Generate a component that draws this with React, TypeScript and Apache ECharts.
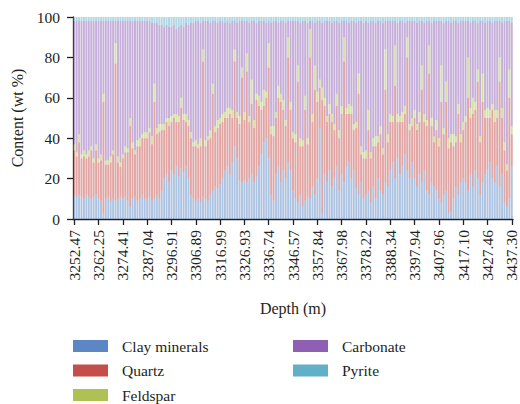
import React, { useEffect, useRef } from "react";
import * as echarts from "echarts";

const depthLabels = ["3252.47","3262.25","3274.41","3287.04","3296.91","3306.89","3316.99","3326.93","3336.74","3346.57","3357.84","3367.98","3378.22","3388.34","3397.94","3407.96","3417.10","3427.46","3437.30"];

const clay = [
  12,11,12,11,10,12,11,10,11,12,
  10,9,3,10,11,9,10,9,10,11,
  10,11,9,6,10,11,9,10,12,10,
  10,11,9,10,12,10,14,20,22,18,
  24,22,26,21,25,23,26,20,12,10,
  9,10,8,11,10,9,12,14,16,15,
  17,20,24,26,22,28,36,30,19,18,
  19,18,20,22,18,21,26,32,38,40,
  30,12,9,22,26,18,24,20,28,24,
  14,10,8,12,6,9,11,10,16,12,
  20,45,3,22,18,24,16,20,26,14,
  22,18,26,28,20,24,15,12,18,10,
  12,14,8,16,10,20,14,12,18,16,
  24,28,20,30,22,26,32,24,20,28,
  20,16,22,18,24,14,12,18,16,14,
  10,8,12,14,3,4,10,16,12,18,
  20,18,14,22,16,24,20,12,18,22,
  24,28,20,18,26,16,22,8,6,10,26,
];
const quartz = [
  22,20,26,19,21,18,20,24,17,22,
  18,20,55,17,16,19,22,68,18,15,
  20,22,24,40,25,21,27,26,28,30,
  30,32,28,48,30,33,30,24,26,28,
  24,28,22,27,30,26,22,26,28,26,
  27,25,28,67,26,30,28,48,27,30,
  30,28,26,24,30,22,42,20,28,52,
  30,55,28,35,27,38,30,22,18,20,
  45,30,32,28,34,40,30,26,52,30,
  26,28,60,24,30,45,26,70,32,52,
  38,20,56,34,30,28,32,24,30,26,
  30,60,26,24,32,20,30,50,14,20,
  18,30,22,20,26,18,28,20,46,22,
  24,20,46,18,26,22,20,56,24,18,
  30,28,26,46,24,32,60,28,22,30,
  26,50,30,44,32,34,26,22,40,20,
  24,30,46,28,36,30,48,26,40,28,
  26,22,34,30,24,52,28,26,18,50,16,
];
const feldspar = [
  3,2,4,2,3,2,3,2,2,3,
  2,3,4,2,2,3,2,10,3,2,
  2,3,2,4,3,2,3,4,2,3,
  3,2,4,9,3,4,3,3,2,4,
  3,2,4,3,5,3,4,3,3,2,
  3,2,4,6,3,2,4,5,3,4,
  3,4,3,5,3,4,6,3,4,5,
  4,9,3,12,4,3,5,4,8,3,
  12,4,5,3,6,4,5,3,10,4,
  3,4,8,4,3,7,3,14,4,12,
  5,4,6,4,3,5,4,3,6,4,
  4,12,3,5,4,3,3,10,4,3,
  4,10,3,4,5,3,4,3,20,4,
  4,3,20,4,3,5,4,10,3,4,
  4,3,5,12,4,3,14,4,3,5,
  4,18,3,10,5,4,6,3,5,4,
  4,3,20,5,8,4,6,3,14,4,
  5,4,3,6,4,12,5,4,3,14,4,
];
const carbonate = [
  61,65,56,66,64,66,64,62,68,61,
  68,66,36,69,69,67,64,11,67,70,
  66,62,63,48,60,64,59,58,56,55,
  55,53,56,30,52,49,49,48,46,45,
  44,44,42,44,36,43,45,47,54,59,
  59,61,57,14,59,57,53,31,52,48,
  48,46,44,43,42,44,14,44,47,23,
  45,16,46,29,49,35,37,40,34,34,
  11,51,52,45,31,36,39,48,8,40,
  55,56,22,57,59,37,57,4,46,21,
  35,29,32,38,47,41,45,51,36,53,
  42,8,43,40,42,51,49,26,62,64,
  64,43,65,58,56,57,52,62,14,56,
  46,47,12,45,47,45,41,8,51,48,
  44,50,45,22,45,49,12,47,57,49,
  58,22,52,30,58,55,56,57,40,56,
  50,47,18,42,38,40,23,57,26,43,
  43,44,40,44,44,18,42,60,71,24,51,
];
const pyrite = [
  2,2,2,2,2,2,2,2,2,2,
  2,2,2,2,2,2,2,2,2,2,
  2,2,2,2,2,2,2,2,2,2,
  2,2,3,3,3,4,4,5,4,5,
  5,4,6,5,4,5,3,4,3,3,
  2,2,3,2,2,2,3,2,2,3,
  2,2,3,2,3,2,2,3,2,2,
  2,2,3,2,2,3,2,2,2,3,
  2,3,2,2,3,2,2,3,2,2,
  2,2,2,3,2,2,3,2,2,3,
  2,2,3,2,2,2,3,2,2,3,
  2,2,2,3,2,2,3,2,2,3,
  2,3,2,2,3,2,2,3,2,2,
  2,2,2,3,2,2,3,2,2,2,
  2,3,2,2,3,2,2,3,2,2,
  2,2,3,2,2,3,2,2,3,2,
  2,2,2,3,2,2,3,2,2,3,
  2,2,3,2,2,2,3,2,2,2,3,
];

const seriesNames = ["Clay minerals", "Quartz", "Feldspar", "Carbonate", "Pyrite"];
const seriesColors = ["#5B87C5", "#C44E4A", "#AEC152", "#8E5FB3", "#62AFC8"];

const FONT = "'Liberation Serif', 'DejaVu Serif', serif";
const INK = "#231F20";

export default function App() {
  const ref = useRef<HTMLDivElement>(null);
  useEffect(() => {
    if (!ref.current) return;
    const chart = echarts.init(ref.current, null, { renderer: "svg" });
    const categories = clay.map((_, i) => String(i));
    const values = [clay, quartz, feldspar, carbonate, pyrite];
    const legendBase = {
      orient: "vertical",
      top: 338,
      height: 100,
      padding: 0,
      itemWidth: 35,
      itemHeight: 12,
      itemGap: 8.5,
      icon: "rect",
      selectedMode: false,
      textStyle: { fontFamily: FONT, fontSize: 15.5, color: INK, lineHeight: 16, padding: [0, 0, 0, 9] },
    };
    chart.setOption({
      animation: false,
      textStyle: { fontFamily: FONT, color: INK },
      grid: { left: 73, right: 7, top: 17, bottom: 185, containLabel: false },
      legend: [
        {
          ...legendBase,
          left: 73,
          data: [0, 1, 2].map((k) => ({ name: seriesNames[k], itemStyle: { color: seriesColors[k], opacity: 1 } })),
        },
        {
          ...legendBase,
          left: 293,
          data: [3, 4].map((k) => ({ name: seriesNames[k], itemStyle: { color: seriesColors[k], opacity: 1 } })),
        },
      ],
      xAxis: {
        type: "category",
        data: categories,
        name: "Depth (m)",
        nameLocation: "middle",
        nameGap: 81,
        nameTextStyle: { fontFamily: FONT, fontSize: 16, color: INK },
        axisLine: { lineStyle: { color: INK, width: 1.3 } },
        axisTick: { show: true, interval: 9, alignWithLabel: true, length: 6, lineStyle: { color: INK, width: 1.3 } },
        axisLabel: {
          interval: 9,
          rotate: 90,
          margin: 11,
          fontFamily: FONT,
          fontSize: 15.5,
          color: INK,
          formatter: (_v: string, idx: number) => (idx % 10 === 0 ? depthLabels[idx / 10] : ""),
        },
        splitLine: { show: false },
      },
      yAxis: {
        type: "value",
        min: 0,
        max: 100,
        interval: 20,
        name: "Content (wt %)",
        nameLocation: "middle",
        nameGap: 48,
        nameTextStyle: { fontFamily: FONT, fontSize: 16, color: INK },
        axisLine: { show: true, lineStyle: { color: INK, width: 1.3 } },
        axisTick: { show: true, length: 6, lineStyle: { color: INK, width: 1.3 } },
        axisLabel: { margin: 13, fontFamily: FONT, fontSize: 15.5, color: INK },
        splitLine: { show: false },
      },
      series: values.map((arr, k) => ({
        name: seriesNames[k],
        type: "bar",
        stack: "total",
        data: arr,
        barCategoryGap: "20%",
        itemStyle: { color: seriesColors[k], opacity: 0.5 },
        emphasis: { disabled: true },
      })),
    });
    return () => chart.dispose();
  }, []);
  return <div ref={ref} style={{ position: "absolute", left: 0, top: 0, width: 520, height: 404 }} />;
}
